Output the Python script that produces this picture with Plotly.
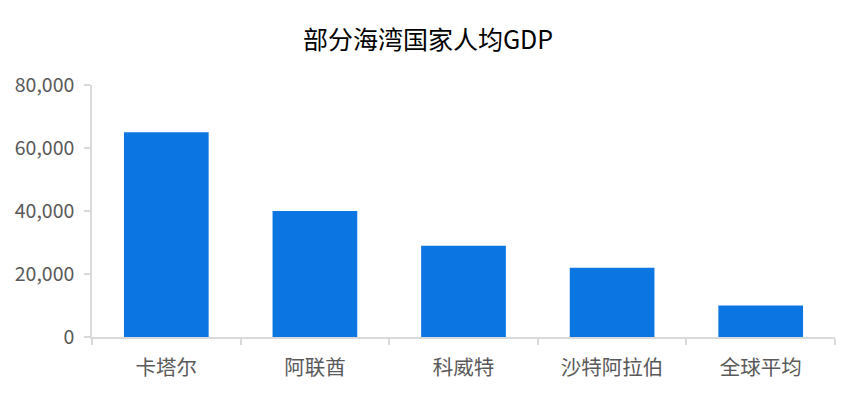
import plotly.graph_objects as go

categories = ["卡塔尔", "阿联酋", "科威特", "沙特阿拉伯", "全球平均"]
gdp_per_capita = [65000, 40000, 29000, 22000, 10000]
y_tick_values = [0, 20000, 40000, 60000, 80000]
y_tick_labels = ["0", "20,000", "40,000", "60,000", "80,000"]

FONT = "Noto Sans CJK SC, Noto Sans, sans-serif"
AXIS = "#d9d9d9"

fig = go.Figure(go.Bar(
    x=categories,
    y=gdp_per_capita,
    marker=dict(color="#0b76e2", line=dict(width=0)),
    width=0.57,
))

# page body has an 8px margin, so the figure is sized/placed to compensate
fig.update_layout(
    width=848, height=385,
    margin=dict(l=84, r=21, t=77, b=56),
    paper_bgcolor="white", plot_bgcolor="white",
    title=dict(text="部分海湾国家人均GDP", x=0.4953, xanchor="center", y=0.917, yanchor="middle",
               font=dict(family=FONT, size=25, color="#000000")),
    showlegend=False,
    font=dict(family=FONT),
)
fig.update_xaxes(
    automargin=False,
    showline=True, linecolor=AXIS, linewidth=1.5,
    ticks="outside", tickson="boundaries", ticklen=6, tickcolor=AXIS, tickwidth=1.5,
    tickfont=dict(family=FONT, size=20.5, color="#595959"),
    ticklabelstandoff=12,
    showgrid=False,
)
fig.update_yaxes(
    automargin=False,
    range=[0, 80000],
    tickvals=y_tick_values, ticktext=y_tick_labels,
    showline=True, linecolor=AXIS, linewidth=1.5,
    ticks="outside", ticklen=6, tickcolor=AXIS, tickwidth=1.5,
    tickfont=dict(family=FONT, size=19.5, color="#595959"),
    ticklabelstandoff=6,
    showgrid=False, zeroline=False,
)

fig.write_html("out.html")
